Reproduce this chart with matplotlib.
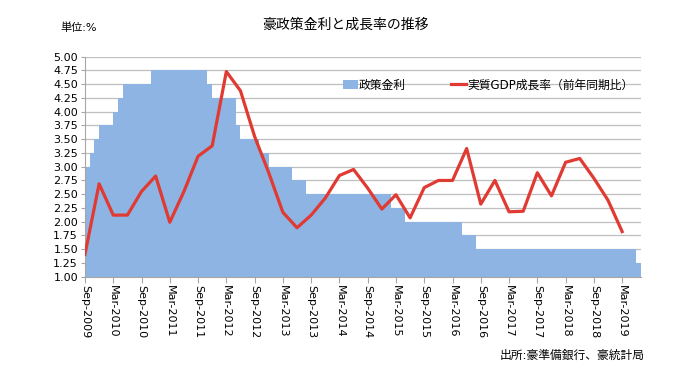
import numpy as np
import pandas as pd
import matplotlib
matplotlib.use('Agg')
import matplotlib.pyplot as plt

plt.rcParams['font.family'] = ['DejaVu Sans', 'Noto Sans CJK JP']

# monthly category axis: Sep-2009 .. Jun-2019
months = pd.period_range('2009-09', '2019-06', freq='M')

# policy rate (RBA cash rate) - month of change and new level
rate_change = ['2009-09', '2009-10', '2009-11', '2009-12', '2010-03', '2010-04',
               '2010-05', '2010-11', '2011-11', '2011-12', '2012-05', '2012-06',
               '2012-10', '2012-12', '2013-05', '2013-08', '2015-02', '2015-05',
               '2016-05', '2016-08', '2019-06']
rate_value = [3.00, 3.25, 3.50, 3.75, 4.00, 4.25,
              4.50, 4.75, 4.50, 4.25, 3.75, 3.50,
              3.25, 3.00, 2.75, 2.50, 2.25, 2.00,
              1.75, 1.50, 1.25]

# real GDP growth (yoy), quarterly from Sep-2009 to Mar-2019
gdp_start = '2009-09'
gdp_growth = [1.41, 2.69, 2.12, 2.12, 2.55, 2.83, 1.99, 2.55, 3.19, 3.38,
              4.73, 4.38, 3.55, 2.89, 2.17, 1.89, 2.12, 2.43, 2.84, 2.95,
              2.61, 2.23, 2.49, 2.07, 2.62, 2.75, 2.75, 3.33, 2.32, 2.75,
              2.18, 2.19, 2.89, 2.47, 3.08, 3.15, 2.79, 2.39, 1.82]

tick_labels = ['Sep-2009', 'Mar-2010', 'Sep-2010', 'Mar-2011', 'Sep-2011',
               'Mar-2012', 'Sep-2012', 'Mar-2013', 'Sep-2013', 'Mar-2014',
               'Sep-2014', 'Mar-2015', 'Sep-2015', 'Mar-2016', 'Sep-2016',
               'Mar-2017', 'Sep-2017', 'Mar-2018', 'Sep-2018', 'Mar-2019']


def pos(p):
    return (pd.Period(p, 'M') - months[0]).n


fig = plt.figure(figsize=(7, 3.8), dpi=100)
ax = fig.add_axes([0.1214, 0.2718, 0.9157 - 0.1214, 0.8508 - 0.2718])

# gridlines behind the area
ax.set_axisbelow(True)
ax.yaxis.grid(True, color='#bfbfbf', linewidth=0.9)

edges = [pos(c) for c in rate_change] + [len(months)]
ax.stairs(rate_value, edges, baseline=1.0, fill=True, color='#8db4e2',
          label='政策金利', zorder=2)

gdp_x = pos(gdp_start) + 3 * np.arange(len(gdp_growth))
ax.plot(gdp_x, gdp_growth, color='#e03a32', linewidth=2.3,
        label='実質GDP成長率（前年同期比）', zorder=3)

ax.set_xlim(0, len(months))
ax.set_ylim(1.0, 5.0)
ax.set_yticks(np.arange(1.0, 5.01, 0.25))
ax.set_yticklabels([f'{v:.2f}' for v in np.arange(1.0, 5.01, 0.25)], fontsize=8)
ax.set_xticks(range(0, 115, 6))
ax.set_xticklabels(tick_labels, rotation=270, fontsize=8, ha='center', va='top')

ax.tick_params(axis='y', length=3, color='#a6a6a6', pad=2)
ax.tick_params(axis='x', length=4, color='#a6a6a6', pad=2)
for side in ['top', 'right']:
    ax.spines[side].set_visible(False)
for side in ['left', 'bottom']:
    ax.spines[side].set_color('#a6a6a6')
    ax.spines[side].set_linewidth(0.8)

ax.legend(loc='center', bbox_to_anchor=(0.725, 0.871), ncol=2, frameon=False,
          fontsize=8.5, handlelength=1.3, handletextpad=0.1, columnspacing=3.8)

fig.text(0.493, 0.934, '豪政策金利と成長率の推移', ha='center', va='center', fontsize=10)
fig.text(0.086, 0.926, '単位:%', ha='left', va='center', fontsize=8)
fig.text(0.714, 0.066, '出所:豪準備銀行、豪統計局', ha='left', va='center', fontsize=8.5)

fig.savefig('out.png', dpi=100)
